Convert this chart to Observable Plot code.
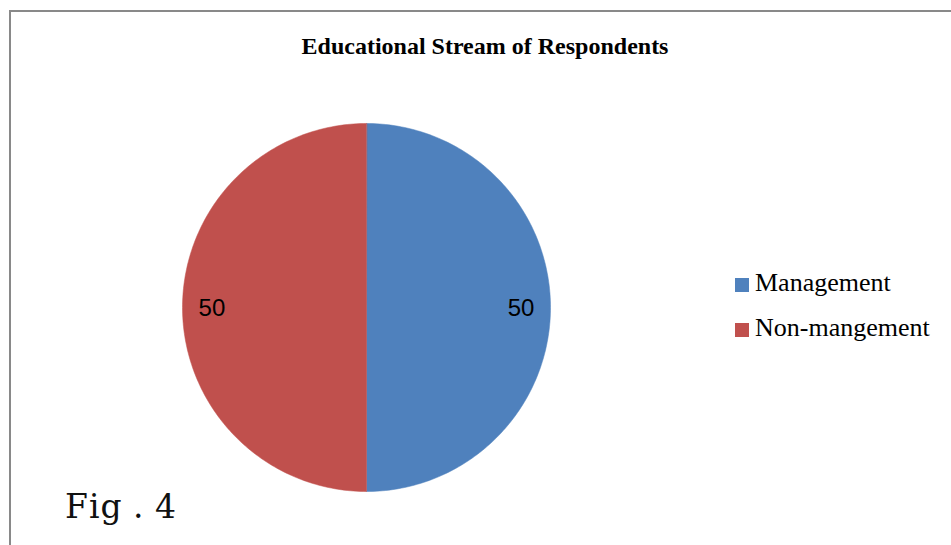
<!DOCTYPE html>
<html><head><meta charset="utf-8">
<script src="https://cdn.jsdelivr.net/npm/d3@7"></script>
<script src="https://cdn.jsdelivr.net/npm/@observablehq/plot@0.6"></script>
<style>
body{margin:0;background:#fff;}
#wrap{position:relative;width:951px;height:545px;overflow:hidden;background:#fff;}
#border{position:absolute;left:9px;top:10px;width:1000px;height:600px;border-left:2px solid #898989;border-top:2px solid #898989;box-sizing:border-box;}
#chart{position:absolute;left:0;top:0;}
#title{position:absolute;left:485px;top:34px;transform:translateX(-50%);white-space:nowrap;font:bold 24px/1 "Liberation Serif","Times New Roman",serif;color:#000;}
.leg{position:absolute;left:735px;white-space:nowrap;font:26px/1 "Liberation Serif","Times New Roman",serif;color:#000;}
.leg .sw{position:absolute;left:0;width:14px;height:14px;}
.leg .tx{position:absolute;left:20px;top:0;}
#fig{position:absolute;left:65px;top:490px;white-space:nowrap;font:33px/1 "DejaVu Serif",serif;letter-spacing:1px;word-spacing:-1px;color:#111;}
</style></head>
<body><div id="wrap"><div id="chart"></div><div id="border"></div><div id="title"></div><div id="legend"></div><div id="fig"></div></div>
<script>
const categories = ["Management", "Non-mangement"];
const values = [50, 50];
const valueLabels = ["50", "50"];
const colors = ["#4F81BD", "#C0504D"];
const title = "Educational Stream of Respondents";
const figLabel = "Fig . 4";

const data = categories.map((c, i) => ({category: c, value: values[i], label: valueLabels[i]}));
const arcs = d3.pie().sort(null).value(d => d.value)(data);

// slice polygons (geometry derived from the values)
const N = 180;
const pts = [];
arcs.forEach(a => {
  pts.push({x: 0, y: 0, category: a.data.category});
  for (let i = 0; i <= N; i++) {
    const t = a.startAngle + (a.endAngle - a.startAngle) * i / N;
    pts.push({x: Math.sin(t), y: Math.cos(t), category: a.data.category});
  }
});
const labelPts = arcs.map(a => {
  const m = (a.startAngle + a.endAngle) / 2;
  return {x: 0.84 * Math.sin(m), y: 0.84 * Math.cos(m), label: a.data.label};
});

const plot = Plot.plot({
  width: 951, height: 545,
  marginLeft: 182, marginRight: 401, marginTop: 123, marginBottom: 54,
  x: {domain: [-1, 1], axis: null},
  y: {domain: [-1, 1], axis: null},
  color: {domain: categories, range: colors},
  style: {background: "transparent"},
  marks: [
    Plot.line(pts, {x: "x", y: "y", z: "category", fill: "category", stroke: "category", strokeWidth: 0.5, curve: "linear-closed"}),
    Plot.text(labelPts, {x: "x", y: "y", text: "label", fontSize: 24, fontFamily: "Liberation Sans, Arial, sans-serif", fill: "#000", dy: 1})
  ]
});
document.getElementById("chart").appendChild(plot);

document.getElementById("title").textContent = title;
document.getElementById("fig").textContent = figLabel;
const leg = document.getElementById("legend");
const tops = [270, 315];
categories.forEach((c, i) => {
  const d = document.createElement("div");
  d.className = "leg";
  d.style.top = tops[i] + "px";
  const sw = document.createElement("div");
  sw.className = "sw";
  sw.style.background = colors[i];
  sw.style.top = "8px";
  const tx = document.createElement("div");
  tx.className = "tx";
  tx.textContent = c;
  d.appendChild(sw); d.appendChild(tx);
  leg.appendChild(d);
});
</script>
</body></html>
